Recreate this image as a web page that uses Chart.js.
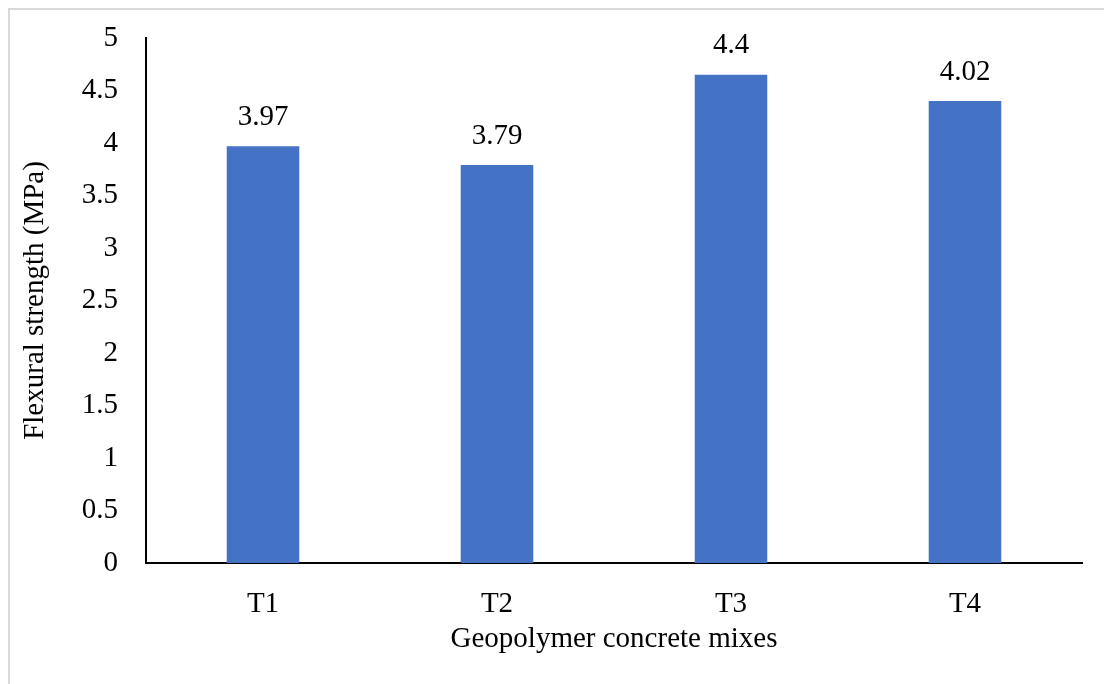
<!DOCTYPE html>
<html>
<head>
<meta charset="utf-8">
<script src="https://cdn.jsdelivr.net/npm/chart.js@4.4.1/dist/chart.umd.min.js"></script>
<style>
  html, body { margin: 0; padding: 0; background: #fff; }
  #wrap { position: relative; width: 1104px; height: 684px; }
  #frame {
    position: absolute; left: 8px; top: 8px; width: 1200px; height: 800px;
    border-top: 2px solid #d9d9d9; border-left: 2px solid #d9d9d9;
    pointer-events: none;
  }
  canvas { position: absolute; left: 0; top: 0; }
</style>
</head>
<body>
<div id="wrap">
  <div id="frame"></div>
  <canvas id="barChart" width="1104" height="684"></canvas>
</div>
<script>
// data
const mixes = ['T1', 'T2', 'T3', 'T4'];
const strength = [3.97, 3.79, 4.65, 4.40];          // bar heights as drawn
const valueLabels = ['3.97', '3.79', '4.4', '4.02']; // labels printed above bars
const yTicks = [0, 0.5, 1, 1.5, 2, 2.5, 3, 3.5, 4, 4.5, 5];

const serif = 'Liberation Serif, Times New Roman, serif';
const barColor = '#4472c4';
const fontSize = 29;

// labels above bars
const barLabels = {
    id: 'barLabels',
    afterDatasetsDraw(chart) {
        const ctx = chart.ctx;
        const meta = chart.getDatasetMeta(0);
        ctx.save();
        ctx.font = fontSize + 'px ' + serif;
        ctx.fillStyle = '#000';
        ctx.textAlign = 'center';
        ctx.textBaseline = 'middle';
        meta.data.forEach((bar, i) => {
            ctx.fillText(valueLabels[i], bar.x, bar.y - 29);
        });
        ctx.restore();
    }
};

Chart.defaults.font.family = serif;
Chart.defaults.color = '#000';

new Chart(document.getElementById('barChart'), {
    type: 'bar',
    data: {
        labels: mixes,
        datasets: [{
            data: strength,
            backgroundColor: barColor,
            borderWidth: 0,
            barPercentage: 1,
            categoryPercentage: 0.31,
        }],
    },
    options: {
        responsive: false,
        animation: false,
        layout: { padding: { top: 38, right: 22, left: 0, bottom: 0 } },
        plugins: { legend: { display: false }, tooltip: { enabled: false } },
        scales: {
            x: {
                grid: { display: false, drawTicks: true, tickLength: 20 },
                border: { display: true, color: '#000', width: 2 },
                ticks: { font: { size: fontSize }, padding: 4 },
                title: {
                    display: true, text: 'Geopolymer concrete mixes',
                    font: { size: fontSize }, padding: { top: 0, bottom: 27 }
                },
                afterFit(scale) { scale.height = 121; }
            },
            y: {
                min: 0, max: 5,
                afterBuildTicks(scale) { scale.ticks = yTicks.map(v => ({ value: v })); },
                grid: { display: false, drawTicks: true, tickLength: 24 },
                border: { display: true, color: '#000', width: 2 },
                ticks: {
                    font: { size: fontSize }, padding: 4,
                    callback: v => String(v)
                },
                title: {
                    display: true, text: 'Flexural strength (MPa)',
                    font: { size: fontSize }, padding: { top: 18, bottom: 0 }
                },
                afterFit(scale) { scale.width = 146; }
            },
        },
    },
    plugins: [barLabels],
});
</script>
</body>
</html>
